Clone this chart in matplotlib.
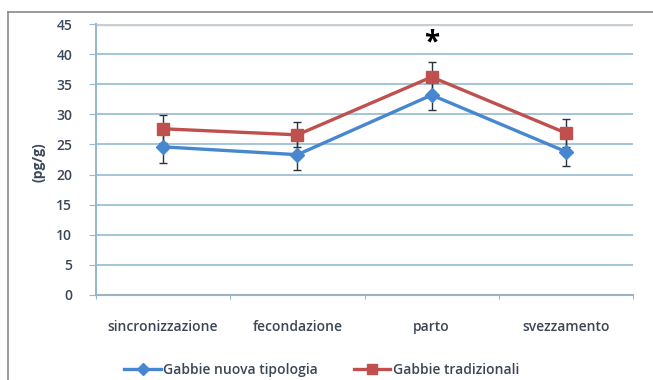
import numpy as np
import matplotlib.pyplot as plt
from matplotlib.lines import Line2D

phases = ['sincronizzazione', 'fecondazione', 'parto', 'svezzamento']
nuova = [24.6, 23.3, 33.2, 23.8]
nuova_err = [2.7, 2.5, 2.5, 2.4]
tradizionali = [27.6, 26.6, 36.2, 26.9]
tradizionali_err = [2.3, 2.1, 2.5, 2.3]
yticks = list(range(0, 50, 5))

blue = '#4787cf'
red = '#c0504d'
grid_col = '#93bad2'
txt_col = '#3b4756'

plt.rcParams['font.family'] = ['Open Sans', 'DejaVu Sans']

fig = plt.figure(figsize=(6.53, 3.80), dpi=100)
ax = fig.add_axes([0.147, 0.2237, 0.8224, 0.7131])

x = np.arange(len(phases)) + 0.5

# horizontal gridlines, the top one drawn grey and heavier
for v in yticks[1:-1]:
    ax.axhline(v, color=grid_col, lw=1.2, zorder=1)
ax.axhline(yticks[-1], color='#c9ced3', lw=2.5, zorder=1)

ax.errorbar(x, nuova, yerr=nuova_err, color=blue, lw=2.4, marker='D', ms=7,
            ecolor='#27333f', elinewidth=1.0, capsize=3, capthick=1.0, zorder=3)
ax.errorbar(x, tradizionali, yerr=tradizionali_err, color=red, lw=2.4, marker='s', ms=8,
            ecolor='#27333f', elinewidth=1.0, capsize=3, capthick=1.0, zorder=3)

ax.text(x[2], 41.9, '*', ha='center', va='center', fontsize=20, fontweight='bold', color='black')

ax.set_xlim(0, len(phases))
ax.set_ylim(0, 45)
ax.set_yticks(yticks)
ax.set_xticks(range(len(phases) + 1))
ax.set_xticklabels([])
ax.set_xticks(x, minor=True)
ax.set_xticklabels(phases, minor=True, fontweight='semibold')
ax.tick_params(axis='x', which='minor', length=0, pad=18, labelsize=10, labelcolor=txt_col)
ax.tick_params(axis='x', which='major', length=3, color=grid_col, direction='out')
ax.tick_params(axis='y', length=5, color=grid_col, labelsize=10, labelcolor=txt_col, pad=12)
for lab in ax.get_yticklabels():
    lab.set_fontweight('semibold')

for s in ['top', 'right']:
    ax.spines[s].set_visible(False)
ax.spines['left'].set_color(grid_col)
ax.spines['left'].set_linewidth(1.5)
ax.spines['bottom'].set_color('#9eb3c2')
ax.spines['bottom'].set_linewidth(1.5)

ax.set_ylabel('(pg/g)', fontsize=10, fontweight='bold', color=txt_col)
ax.yaxis.set_label_coords(-0.094, 0.49)

handles = [
    Line2D([], [], color=blue, lw=2.4, marker='D', ms=6),
    Line2D([], [], color=red, lw=2.4, marker='s', ms=7),
]
fig.legend(handles, ['Gabbie nuova tipologia', 'Gabbie tradizionali'],
           loc='center', bbox_to_anchor=(0.493, 0.026), ncol=2, frameon=False,
           prop={'size': 10, 'weight': 'semibold'}, labelcolor=txt_col,
           handlelength=2.6, handletextpad=0.2, columnspacing=2.6)

# outer frame: top and left edges only
fig.add_artist(Line2D([0.0123, 1.0], [0.968, 0.968], color='#8a8a8a', lw=1.2))
fig.add_artist(Line2D([0.0123, 0.0123], [0.0, 0.968], color='#8a8a8a', lw=1.2))

fig.savefig('out.png', dpi=100)
